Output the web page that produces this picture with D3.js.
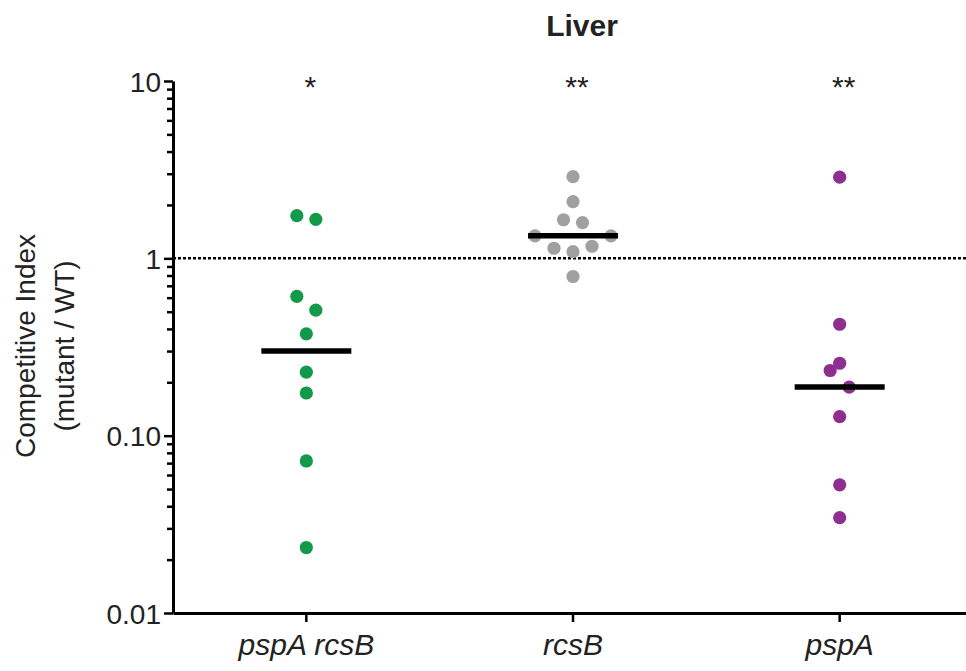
<!DOCTYPE html>
<html>
<head>
<meta charset="utf-8">
<script src="https://cdn.jsdelivr.net/npm/d3@7/dist/d3.min.js"></script>
<style>
  body { margin: 0; background: #fff; }
  svg { display: block; }
  text { font-family: Arial, "Liberation Sans", Helvetica, sans-serif; fill: #222; }
</style>
</head>
<body>
<svg id="chart" width="966" height="671"></svg>
<script>
// groups along the x axis
const categories = ['pspA rcsB', 'rcsB', 'pspA'];
const colors = ['#129a4b', '#a0a0a0', '#8e2e91'];

// competitive index per mouse
const pspArcsB = [1.66, 1.74, 0.61, 0.51, 0.375, 0.228, 0.174, 0.072, 0.0234];
const rcsB = [2.89, 2.09, 1.59, 1.65, 1.34, 1.34, 1.14, 1.09, 1.17, 0.79];
const pspA = [2.87, 0.425, 0.256, 0.233, 0.188, 0.128, 0.0528, 0.0345];

// horizontal bar per group (median)
const medians = [0.30, 1.34, 0.188];
const stars = ['*', '**', '**'];

const yTicks = [0.01, 0.1, 1, 10];
const yTickLabels = ['0.01', '0.10', '1', '10'];

const series = [pspArcsB, rcsB, pspA];

const svg = d3.select('#chart');

const x = d3.scaleBand().domain(categories).range([173, 973]);
const y = d3.scaleLog().domain([0.01, 10]).range([613, 81]);

// all log ticks: majors + 2..9 minors
const allTicks = [];
yTicks.forEach((t, i) => {
  allTicks.push(t);
  if (i < yTicks.length - 1) {
    for (let k = 2; k <= 9; k++) allTicks.push(+(t * k).toPrecision(3));
  }
});

// reference line at 1
svg.append('line')
  .attr('x1', 173).attr('x2', 966)
  .attr('y1', y(1)).attr('y2', y(1))
  .attr('stroke', '#000')
  .attr('stroke-width', 2.5)
  .attr('stroke-dasharray', '3,2');

// y axis
const yAxis = svg.append('g')
  .attr('transform', 'translate(173,0)')
  .call(d3.axisLeft(y).tickValues(allTicks).tickSizeOuter(0)
    .tickFormat(d => {
      const i = yTicks.indexOf(d);
      return i >= 0 ? yTickLabels[i] : '';
    }));
yAxis.select('.domain').attr('stroke', '#000').attr('stroke-width', 3);
yAxis.selectAll('.tick line')
  .attr('stroke', '#000')
  .attr('stroke-width', 2.5)
  .attr('x2', d => (yTicks.indexOf(d) >= 0 ? -9 : -6));
yAxis.selectAll('.tick text')
  .attr('x', -12)
  .attr('dy', '0.36em')
  .style('font-size', '28px');

// x axis
const xAxis = svg.append('g')
  .attr('transform', 'translate(0,613)')
  .call(d3.axisBottom(x).tickSize(9).tickSizeOuter(0));
xAxis.select('.domain').attr('stroke', '#000').attr('stroke-width', 3);
xAxis.selectAll('.tick line').attr('stroke', '#000').attr('stroke-width', 2.5);
xAxis.selectAll('.tick text')
  .attr('y', 42)
  .attr('dy', 0)
  .style('font-size', '30px')
  .style('font-style', 'italic');

// simple column scatter: bunch points that sit close together and spread them sideways
function swarm(values) {
  const sorted = values.map(v => ({ v: v, py: y(v) })).sort((a, b) => b.py - a.py);
  const groups = [];
  sorted.forEach(p => {
    const g = groups[groups.length - 1];
    if (g && g[0].py - p.py < 18) g.push(p);
    else groups.push([p]);
  });
  const step = 19;
  groups.forEach(g => {
    const n = g.length;
    g.forEach((p, i) => {
      if (n % 2 === 1) {
        const k = Math.ceil(i / 2);
        p.dx = i === 0 ? 0 : (i % 2 === 1 ? -k : k) * step;
      } else {
        const k = Math.floor(i / 2) + 0.5;
        p.dx = (i % 2 === 0 ? k : -k) * step;
      }
    });
  });
  return sorted;
}

series.forEach((vals, si) => {
  const cx = x(categories[si]) + x.bandwidth() / 2;
  const pts = swarm(vals);
  svg.append('g')
    .selectAll('circle')
    .data(pts)
    .enter()
    .append('circle')
    .attr('cx', d => cx + d.dx)
    .attr('cy', d => d.py)
    .attr('r', 6.6)
    .attr('fill', colors[si]);

  // median bar
  svg.append('line')
    .attr('x1', cx - 45).attr('x2', cx + 45)
    .attr('y1', y(medians[si])).attr('y2', y(medians[si]))
    .attr('stroke', '#000')
    .attr('stroke-width', 5.5);

  // significance stars
  svg.append('text')
    .attr('x', cx + 4)
    .attr('y', 97)
    .attr('text-anchor', 'middle')
    .style('font-size', '30px')
    .text(stars[si]);
});

// title
svg.append('text')
  .attr('x', 582)
  .attr('y', 36)
  .attr('text-anchor', 'middle')
  .style('font-size', '30px')
  .style('font-weight', 'bold')
  .text('Liver');

// y axis title
const yTitle = svg.append('text')
  .attr('transform', 'translate(0,346) rotate(-90)')
  .attr('text-anchor', 'middle')
  .style('font-size', '28px');
yTitle.append('tspan').attr('x', 0).attr('y', 35).text('Competitive Index');
yTitle.append('tspan').attr('x', 0).attr('y', 74).text('(mutant / WT)');
</script>
</body>
</html>
